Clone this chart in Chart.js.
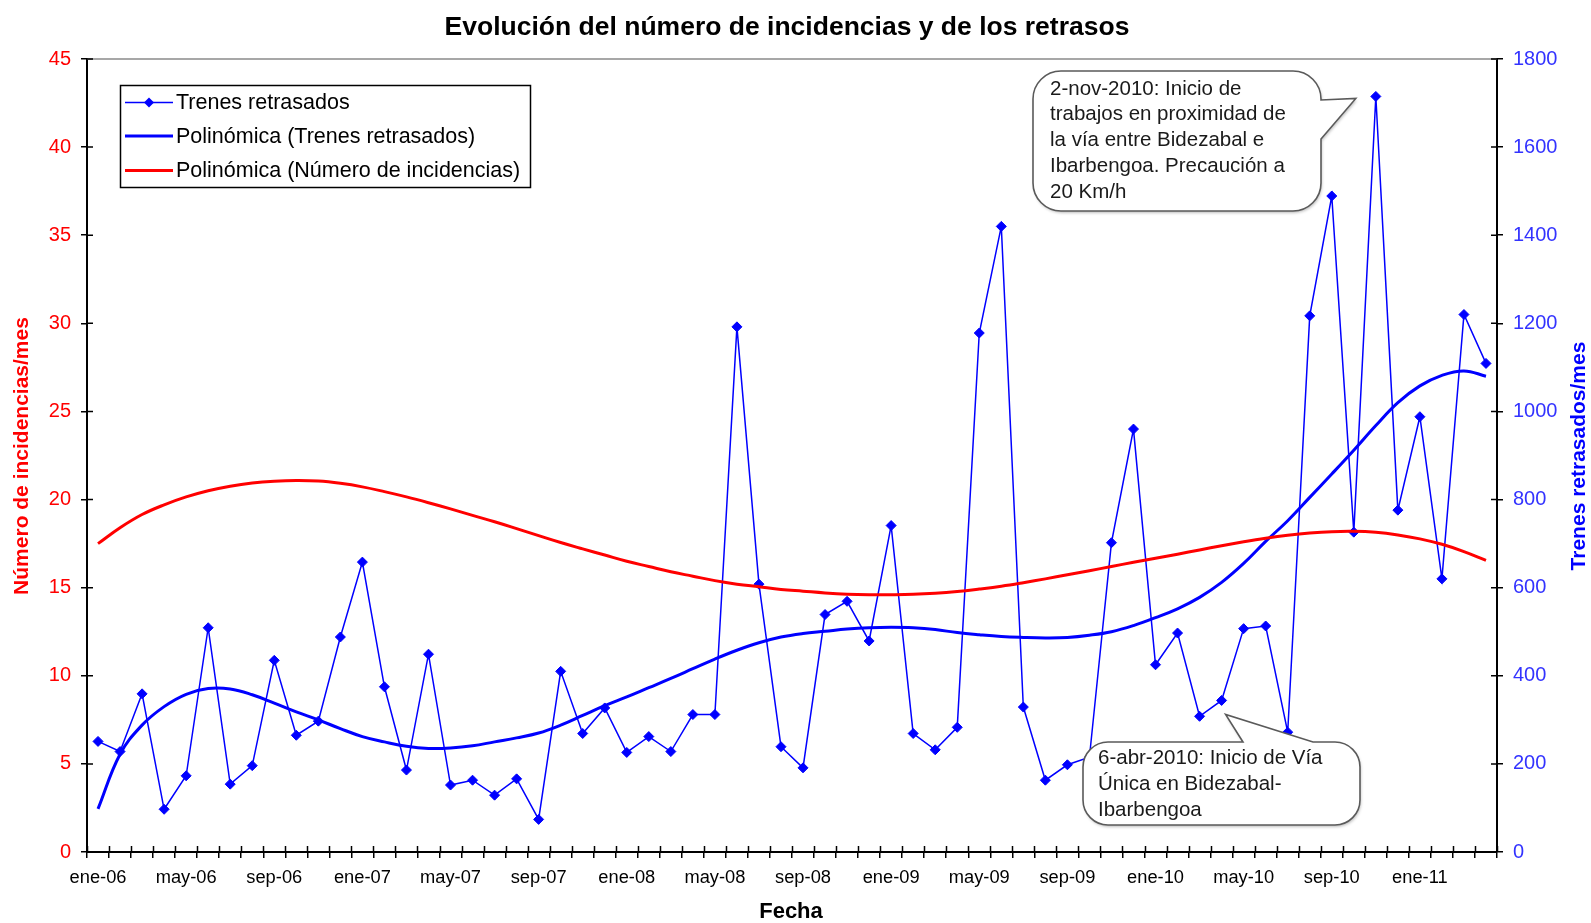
<!DOCTYPE html>
<html>
<head>
<meta charset="utf-8">
<script src="https://cdn.jsdelivr.net/npm/chart.js@4.4.0/dist/chart.umd.min.js"></script>
<style>
html,body{margin:0;padding:0;background:#fff;overflow:hidden}
#wrap{width:1591px;height:923px;position:relative}
canvas{display:block}
</style>
</head>
<body>
<div id="wrap"><canvas id="c" width="1591" height="923"></canvas></div>
<script>
// ---------- DATA ----------
const categories = [
  'ene-06','feb-06','mar-06','abr-06','may-06','jun-06','jul-06','ago-06','sep-06','oct-06','nov-06','dic-06',
  'ene-07','feb-07','mar-07','abr-07','may-07','jun-07','jul-07','ago-07','sep-07','oct-07','nov-07','dic-07',
  'ene-08','feb-08','mar-08','abr-08','may-08','jun-08','jul-08','ago-08','sep-08','oct-08','nov-08','dic-08',
  'ene-09','feb-09','mar-09','abr-09','may-09','jun-09','jul-09','ago-09','sep-09','oct-09','nov-09','dic-09',
  'ene-10','feb-10','mar-10','abr-10','may-10','jun-10','jul-10','ago-10','sep-10','oct-10','nov-10','dic-10',
  'ene-11','feb-11','mar-11','abr-11'
];
const tickLabels = ['ene-06','may-06','sep-06','ene-07','may-07','sep-07','ene-08','may-08','sep-08',
  'ene-09','may-09','sep-09','ene-10','may-10','sep-10','ene-11'];

// Trenes retrasados / mes (right axis)
const trenesRetrasados = [
  251,228,359,97,173,509,154,196,435,265,297,488,
  658,375,186,449,152,163,129,166,74,410,269,327,
  226,262,228,312,312,1192,608,239,191,539,569,479,
  741,269,232,283,1178,1420,329,163,198,215,702,960,
  425,497,308,344,507,513,272,1217,1489,726,1715,776,
  988,620,1220,1109
];
// Polinómica (Trenes retrasados) (right axis)
const polinomicaTrenes = [
  98,222,288,330,358,371,370,357,338,318,300,280,
  262,250,240,235,236,241,250,259,270,288,310,332,
  352,373,394,416,438,458,475,488,496,501,506,509,
  510,509,505,498,493,489,487,486,487,492,500,514,
  532,552,578,612,655,705,752,805,858,912,968,1020,
  1058,1082,1092,1080
];
// Polinómica (Número de incidencias) (left axis)
const polinomicaIncidencias = [
  17.5,18.4,19.15,19.7,20.15,20.5,20.76,20.94,21.04,21.08,21.05,20.92,
  20.72,20.45,20.15,19.82,19.47,19.1,18.74,18.35,17.95,17.56,17.2,16.85,
  16.5,16.2,15.9,15.65,15.4,15.2,15.05,14.9,14.8,14.7,14.63,14.6,
  14.6,14.62,14.68,14.78,14.92,15.08,15.28,15.5,15.73,15.96,16.2,16.44,
  16.67,16.9,17.14,17.38,17.6,17.8,17.97,18.1,18.18,18.2,18.14,17.99,
  17.77,17.46,17.05,16.55
];
const leftTicks = {min:0, max:45, step:5};
const rightTicks = {min:0, max:1800, step:200};

const titleText = 'Evolución del número de incidencias y de los retrasos';
const xTitle = 'Fecha';
const yLeftTitle = 'Número de incidencias/mes';
const yRightTitle = 'Trenes retrasados/mes';
const callout1 = ['2-nov-2010: Inicio de','trabajos en proximidad de','la vía entre Bidezabal e','Ibarbengoa. Precaución a','20 Km/h'];
const callout2 = ['6-abr-2010: Inicio de Vía','Única en Bidezabal-','Ibarbengoa'];

const FONT = '"Liberation Sans", Arial, Helvetica, sans-serif';

// ---------- OVERLAY PLUGIN ----------
function drawBubbleRight(ctx, x, y, w, h, r, py1, py2, tx, ty){
  ctx.beginPath();
  ctx.moveTo(x + r, y);
  ctx.arcTo(x + w, y, x + w, y + h, r);
  ctx.lineTo(x + w, py1);
  ctx.lineTo(tx, ty);
  ctx.lineTo(x + w, py2);
  ctx.arcTo(x + w, y + h, x, y + h, r);
  ctx.arcTo(x, y + h, x, y, r);
  ctx.arcTo(x, y, x + w, y, r);
  ctx.closePath();
}
function drawBubbleTop(ctx, x, y, w, h, r, px1, px2, tx, ty){
  ctx.beginPath();
  ctx.moveTo(x + r, y);
  ctx.lineTo(px1, y);
  ctx.lineTo(tx, ty);
  ctx.lineTo(px2, y);
  ctx.arcTo(x + w, y, x + w, y + h, r);
  ctx.arcTo(x + w, y + h, x, y + h, r);
  ctx.arcTo(x, y + h, x, y, r);
  ctx.arcTo(x, y, x + w, y, r);
  ctx.closePath();
}
function paintBubble(ctx){
  ctx.save();
  ctx.shadowColor = 'rgba(0,0,0,0.25)';
  ctx.shadowBlur = 3; ctx.shadowOffsetX = 1; ctx.shadowOffsetY = 2;
  ctx.fillStyle = '#fff';
  ctx.fill();
  ctx.restore();
  ctx.strokeStyle = '#5a5a5a';
  ctx.lineWidth = 1.6;
  ctx.stroke();
}

const overlay = {
  id: 'overlay',
  afterDraw(chart){
    const ctx = chart.ctx, ca = chart.chartArea;
    const xs = chart.scales.x, yl = chart.scales.y, yr = chart.scales.y1;
    ctx.save();
    // top border of plot area
    ctx.strokeStyle = '#8a8a8a'; ctx.lineWidth = 1.5;
    ctx.beginPath(); ctx.moveTo(ca.left, ca.top); ctx.lineTo(ca.right, ca.top); ctx.stroke();
    // inner halves of the crossing tick marks
    ctx.strokeStyle = '#000'; ctx.lineWidth = 1.5;
    ctx.beginPath();
    const n = categories.length;
    for (let i = 0; i <= n; i++){
      const x = Math.round(xs.left + i * xs.width / n) + 0.5;
      ctx.moveTo(x, ca.bottom); ctx.lineTo(x, ca.bottom - 6);
    }
    yl.ticks.forEach(t => { const y = yl.getPixelForValue(t.value); ctx.moveTo(ca.left, y); ctx.lineTo(ca.left + 6, y); });
    yr.ticks.forEach(t => { const y = yr.getPixelForValue(t.value); ctx.moveTo(ca.right, y); ctx.lineTo(ca.right - 6, y); });
    ctx.stroke();

    // title
    ctx.fillStyle = '#000';
    ctx.font = 'bold 26.5px ' + FONT;
    ctx.textAlign = 'center'; ctx.textBaseline = 'middle';
    ctx.fillText(titleText, 787, 28);
    // x title
    ctx.font = 'bold 22px ' + FONT;
    ctx.fillText(xTitle, 791, 912);
    // left title
    ctx.font = 'bold 21px ' + FONT;
    ctx.save();
    ctx.translate(22, 456); ctx.rotate(-Math.PI/2);
    ctx.fillStyle = '#ff0000';
    ctx.fillText(yLeftTitle, 0, 0);
    ctx.restore();
    // right title
    ctx.save();
    ctx.translate(1579, 456); ctx.rotate(-Math.PI/2);
    ctx.fillStyle = '#0000ff';
    ctx.fillText(yRightTitle, 0, 0);
    ctx.restore();

    // legend
    const lx = 120, ly = 85, lw = 410, lh = 102;
    ctx.fillStyle = '#fff'; ctx.fillRect(lx, ly, lw, lh);
    ctx.strokeStyle = '#000'; ctx.lineWidth = 1.5;
    ctx.strokeRect(lx + 0.5, ly + 0.5, lw, lh);
    const rows = [102.5, 136, 170.5];
    ctx.font = '21.5px ' + FONT;
    ctx.textAlign = 'left'; ctx.textBaseline = 'middle';
    chart.data.datasets.forEach((ds, i) => {
      const y = rows[i];
      ctx.strokeStyle = ds.borderColor; ctx.lineWidth = ds.borderWidth;
      ctx.beginPath(); ctx.moveTo(125, y); ctx.lineTo(173, y); ctx.stroke();
      if (ds.pointRadius > 0){
        const r = ds.pointRadius;
        ctx.fillStyle = ds.pointBackgroundColor;
        ctx.beginPath();
        ctx.moveTo(149, y - r); ctx.lineTo(149 + r, y); ctx.lineTo(149, y + r); ctx.lineTo(149 - r, y);
        ctx.closePath(); ctx.fill();
      }
      ctx.fillStyle = '#000';
      ctx.fillText(ds.label, 176, y + 1);
    });

    // callout 1 (points at nov-10)
    const t1x = xs.getPixelForValue(58) - 20, t1y = yr.getPixelForValue(trenesRetrasados[58]) + 2;
    drawBubbleRight(ctx, 1033, 71, 288, 140, 28, 100, 139, t1x, t1y);
    paintBubble(ctx);
    ctx.fillStyle = '#1a1a1a';
    ctx.font = '20.5px ' + FONT;
    ctx.textAlign = 'left'; ctx.textBaseline = 'middle';
    callout1.forEach((s, i) => ctx.fillText(s, 1050, 89 + i * 25.8));

    // callout 2 (points at abr-10)
    const t2x = xs.getPixelForValue(51) + 4, t2y = yr.getPixelForValue(trenesRetrasados[51]) + 14;
    drawBubbleTop(ctx, 1083, 742, 277, 83, 25, 1243, 1313, t2x, t2y);
    paintBubble(ctx);
    ctx.fillStyle = '#1a1a1a';
    callout2.forEach((s, i) => ctx.fillText(s, 1098, 758 + i * 26));

    ctx.restore();
  }
};

// ---------- CHART ----------
const ctx = document.getElementById('c').getContext('2d');
new Chart(ctx, {
  type: 'line',
  data: {
    labels: categories,
    datasets: [
      {
        label: 'Trenes retrasados',
        data: trenesRetrasados,
        yAxisID: 'y1',
        borderColor: '#0000ff',
        backgroundColor: '#0000ff',
        borderWidth: 1.5,
        pointStyle: 'rectRot',
        pointRadius: 5,
        pointBackgroundColor: '#0000ff',
        pointBorderColor: '#0000ff',
        pointBorderWidth: 1,
        tension: 0,
        order: 3
      },
      {
        label: 'Polinómica (Trenes retrasados)',
        data: polinomicaTrenes,
        yAxisID: 'y1',
        borderColor: '#0000ff',
        borderWidth: 3,
        pointRadius: 0,
        tension: 0.4,
        order: 2
      },
      {
        label: 'Polinómica (Número de incidencias)',
        data: polinomicaIncidencias,
        yAxisID: 'y',
        borderColor: '#ff0000',
        borderWidth: 3,
        pointRadius: 0,
        tension: 0.4,
        order: 1
      }
    ]
  },
  options: {
    responsive: false,
    animation: false,
    devicePixelRatio: 1,
    layout: { padding: { top: 59, left: 0, right: 0, bottom: 0 } },
    plugins: { legend: { display: false }, title: { display: false }, tooltip: { enabled: false } },
    scales: {
      x: {
        type: 'category',
        offset: true,
        grid: { offset: true, drawOnChartArea: false, drawTicks: true, tickLength: 6, color: '#000', lineWidth: 1.5 },
        border: { color: '#000', width: 2 },
        ticks: {
          autoSkip: false, maxRotation: 0, minRotation: 0, padding: 9,
          color: '#000', font: { family: FONT, size: 18.3 },
          callback: function(v, i){ return tickLabels.includes(categories[i]) ? categories[i] : ''; }
        },
        afterFit: s => { s.height = 71; }
      },
      y: {
        position: 'left',
        min: leftTicks.min, max: leftTicks.max,
        grid: { drawOnChartArea: false, tickLength: 6, color: '#000', lineWidth: 1.5 },
        border: { color: '#000', width: 2 },
        ticks: { stepSize: leftTicks.step, color: '#ff0000', padding: 10, font: { family: FONT, size: 20 },
                 callback: v => String(v) },
        afterFit: s => { s.width = 87; }
      },
      y1: {
        position: 'right',
        min: rightTicks.min, max: rightTicks.max,
        grid: { drawOnChartArea: false, tickLength: 6, color: '#000', lineWidth: 1.5 },
        border: { color: '#000', width: 2 },
        ticks: { stepSize: rightTicks.step, color: '#3333ff', padding: 10, font: { family: FONT, size: 20 },
                 callback: v => String(v) },
        afterFit: s => { s.width = 94; }
      }
    }
  },
  plugins: [overlay]
});
</script>
</body>
</html>
